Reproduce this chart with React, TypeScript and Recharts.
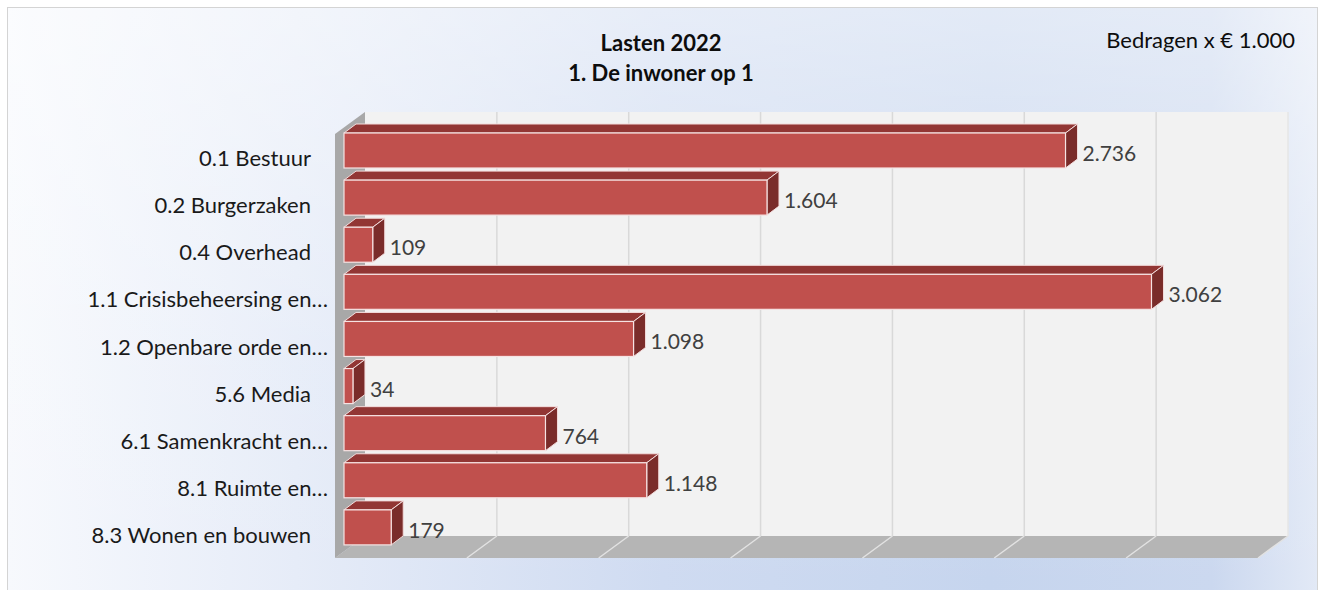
import React from 'react';
import { BarChart, Bar, XAxis, YAxis, CartesianGrid, LabelList } from 'recharts';

const categories = [
  '0.1 Bestuur',
  '0.2 Burgerzaken',
  '0.4 Overhead',
  '1.1 Crisisbeheersing en…',
  '1.2 Openbare orde en…',
  '5.6 Media',
  '6.1 Samenkracht en…',
  '8.1 Ruimte en…',
  '8.3 Wonen en bouwen',
];
const values = [2736, 1604, 109, 3062, 1098, 34, 764, 1148, 179];
const xTicks = [0, 500, 1000, 1500, 2000, 2500, 3000, 3500];
const titleLines = ['Lasten 2022', '1. De inwoner op 1'];
const unitNote = 'Bedragen x € 1.000';

const data = categories.map((name, i) => ({ name, value: values[i] }));

const FONT = 'Lato, "Noto Sans", sans-serif';
// 3D projection offsets
const FRONT_DX = -21;
const FRONT_DY = 15;
const DEPTH_DX = 12;
const DEPTH_DY = -9;
const WALL_DX = -30;
const WALL_DY = 22;

const fmt = (v: number) => String(v).replace(/\B(?=(\d{3})+(?!\d))/g, '.');

// Floor, left wall and back-wall gridlines, from the grid's tick positions
const GridLine = (props: any) => {
  const { y1, y2, index, verticalPoints } = props;
  if (index !== 0) return <g />;
  const pts: number[] = (verticalPoints || []).slice().sort((a: number, b: number) => a - b);
  if (!pts.length) return <g />;
  const first = pts[0];
  const last = pts[pts.length - 1];
  return (
    <g>
      <polygon
        points={`${first},${y2} ${last},${y2} ${last + WALL_DX},${y2 + WALL_DY} ${first + WALL_DX},${y2 + WALL_DY}`}
        fill="#b5b5b5"
      />
      <polygon
        points={`${first},${y1} ${first},${y2} ${first + WALL_DX},${y2 + WALL_DY} ${first + WALL_DX},${y1 + WALL_DY}`}
        fill="#a8a8a8"
      />
      {pts.map((px, i) =>
        i !== 0 && i !== pts.length - 1 ? (
          <line key={i} x1={px} y1={y1} x2={px} y2={y2} stroke="#d9d9d9" strokeWidth={1.5} />
        ) : null
      )}
      <line x1={last} y1={y1} x2={last} y2={y2} stroke="#e6e6e6" strokeWidth={1.5} />
    </g>
  );
};

// Floor lines drawn at each x-axis tick (the 0 edge is the left-wall corner)
const FloorTick = (props: any) => {
  const { x, y, index } = props;
  if (x == null || y == null || index === 0) return <g />;
  return <line x1={x} y1={y} x2={x + WALL_DX} y2={y + WALL_DY} stroke="#e2e2e2" strokeWidth={1.5} />;
};

const Bar3D = (props: any) => {
  const { x, y, width, height } = props;
  if (x == null || y == null) return null;
  const w = Math.max(width || 0, 0);
  const fx = x + FRONT_DX;
  const fy = y + FRONT_DY;
  return (
    <g>
      <polygon
        points={`${fx},${fy} ${fx + w},${fy} ${fx + w + DEPTH_DX},${fy + DEPTH_DY} ${fx + DEPTH_DX},${fy + DEPTH_DY}`}
        fill="#923634"
        stroke="#f3dcdc"
        strokeWidth={1}
        strokeLinejoin="round"
      />
      <polygon
        points={`${fx + w},${fy} ${fx + w + DEPTH_DX},${fy + DEPTH_DY} ${fx + w + DEPTH_DX},${fy + DEPTH_DY + height} ${fx + w},${fy + height}`}
        fill="#7a2c2a"
        stroke="#f3dcdc"
        strokeWidth={1}
        strokeLinejoin="round"
      />
      <rect x={fx} y={fy} width={w} height={height} fill="#c0504d" stroke="#f6e3e3" strokeWidth={1.2} />
    </g>
  );
};

const ValueLabel = (props: any) => {
  const { x, y, width, height, value } = props;
  return (
    <text
      x={x + width + FRONT_DX + DEPTH_DX + 5}
      y={y + FRONT_DY + height / 2 + 2}
      textAnchor="start"
      dominantBaseline="central"
      fontSize={21}
      fontFamily={FONT}
      fill="#404040"
    >
      {fmt(Number(value))}
    </text>
  );
};

const CatTick = (props: any) => {
  const { x, y, payload } = props;
  const label = String(payload.value);
  const truncated = label.endsWith('…');
  return (
    <text
      x={x - (truncated ? 37 : 54)}
      y={y + 22}
      textAnchor="end"
      dominantBaseline="central"
      fontSize={22}
      fontFamily={FONT}
      fill="#1a1a1a"
    >
      {label}
    </text>
  );
};

export default function App() {
  return (
    <div style={{ position: 'absolute', left: 0, top: 0, width: 1325, height: 590, overflow: 'hidden' }}>
      <div
        style={{
          position: 'absolute',
          left: 7,
          top: 7,
          width: 1311,
          height: 590,
          boxSizing: 'border-box',
          border: '1px solid #d4d4d4',
          background:
            'linear-gradient(to bottom, rgba(255,255,255,0.5) 0%, rgba(255,255,255,0.1) 60%, rgba(255,255,255,0) 100%), linear-gradient(to right, #f7f9fd 0%, #e6ecf8 22%, #cfdbf1 50%, #c6d5ee 75%, #cbd8ef 92%, #e2e9f6 100%)',
        }}
      />
      <div
        style={{
          position: 'absolute',
          left: 461,
          width: 400,
          top: 28,
          textAlign: 'center',
          fontFamily: FONT,
          fontWeight: 'bold',
          fontSize: 22,
          lineHeight: '30px',
          color: '#0d0d0d',
        }}
      >
        <div>{titleLines[0]}</div>
        <div>{titleLines[1]}</div>
      </div>
      <div
        style={{
          position: 'absolute',
          right: 30,
          top: 26,
          fontFamily: FONT,
          fontSize: 22,
          lineHeight: '28px',
          color: '#0d0d0d',
        }}
      >
        {unitNote}
      </div>
      <div style={{ position: 'absolute', left: 0, top: 0 }}>
        <BarChart
          width={1325}
          height={590}
          data={data}
          layout="vertical"
          margin={{ top: 112, right: 37, bottom: 32, left: 0 }}
        >
          <CartesianGrid vertical={<GridLine />} horizontal={false} fill="#f2f2f2" stroke="#d9d9d9" />
          <XAxis
            type="number"
            domain={[0, 3500]}
            ticks={xTicks}
            interval={0}
            tick={<FloorTick />}
            axisLine={false}
            tickLine={false}
            tickSize={0}
            tickMargin={0}
            height={22}
          />
          <YAxis
            type="category"
            dataKey="name"
            width={365}
            axisLine={false}
            tickLine={false}
            tickSize={0}
            tickMargin={0}
            interval={0}
            tick={<CatTick />}
          />
          <Bar dataKey="value" barSize={35} shape={<Bar3D />} isAnimationActive={false}>
            <LabelList dataKey="value" content={<ValueLabel />} />
          </Bar>
        </BarChart>
      </div>
    </div>
  );
}
